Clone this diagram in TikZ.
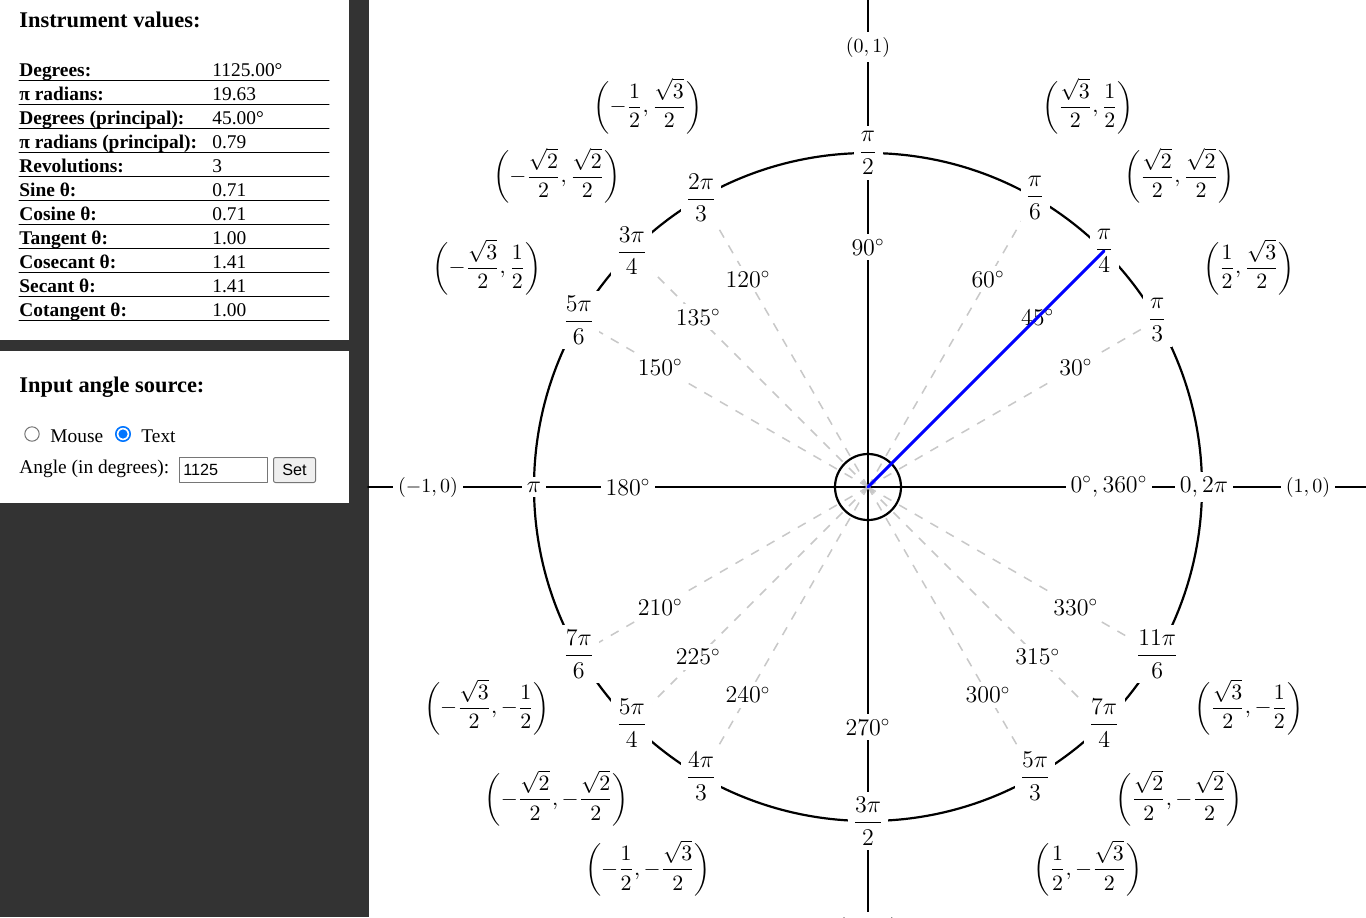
\documentclass[tikz,border=0pt]{standalone}
\usepackage[no-math]{fontspec}
\usepackage{amsmath}
\newfontfamily\pagefont{Liberation Serif}
\newfontfamily\formfont{Liberation Sans}
\definecolor{sidegray}{HTML}{333333}
\definecolor{raygray}{HTML}{C8C8C8}
\definecolor{edgegray}{HTML}{767676}
\definecolor{btngray}{HTML}{EFEFEF}
\definecolor{radioblue}{HTML}{0075FF}
\newcommand{\ptpair}[2]{$\biggl(#1,#2\biggr)$}

\begin{document}
\begin{tikzpicture}[x=0.5pt, y=-0.5pt, line join=round, line cap=round,
  lab/.style={fill=white, inner sep=2.5pt, font=\fontsize{11.6}{14}\selectfont},
  pnt/.style={fill=white, inner sep=2.5pt, font=\fontsize{9.8}{12}\selectfont},
  crd/.style={inner sep=0pt, font=\fontsize{11.4}{14}\selectfont},
  raydash/.style={draw=raygray, line width=0.75pt, line cap=butt, dash pattern=on 4.5pt off 4.5pt},
  handline/.style={draw=blue, line width=1.5pt},
  boxhead/.style={anchor=base west, inner sep=0pt, font=\pagefont\bfseries\fontsize{11.2}{13}\selectfont},
  rowkey/.style={anchor=base west, inner sep=0pt, font=\pagefont\bfseries\fontsize{9.7}{11}\selectfont},
  rowval/.style={anchor=base west, inner sep=0pt, font=\pagefont\fontsize{9.7}{11}\selectfont},
  inputbox/.style={draw=edgegray, line width=0.5pt, anchor=north west, inner sep=0pt, minimum height=12.5pt}]
\useasboundingbox (0,0) rectangle (1366,917);
\fill[white] (0,0) rectangle (1366,917);
\fill[sidegray] (0,0) rectangle (369,917);
\fill[white] (0,0) rectangle (349,340);
\fill[white] (0,351) rectangle (349,503);

% instrument values
\node[boxhead] (hvals) at (19,27) {Instrument values:};
\node[rowkey] (kdeg) at (19,76) {Degrees:};
\node[rowval] (vdeg) at (212,76) {1125.00°};
\node[rowkey] (krad) at (19,100) {π radians:};
\node[rowval] (vrad) at (212,100) {19.63};
\node[rowkey] (kpdeg) at (19,124) {Degrees (principal):};
\node[rowval] (vpdeg) at (212,124) {45.00°};
\node[rowkey] (kprad) at (19,148) {π radians (principal):};
\node[rowval] (vprad) at (212,148) {0.79};
\node[rowkey] (krev) at (19,172) {Revolutions:};
\node[rowval] (vrev) at (212,172) {3};
\node[rowkey] (ksin) at (19,196) {Sine θ:};
\node[rowval] (vsin) at (212,196) {0.71};
\node[rowkey] (kcos) at (19,220) {Cosine θ:};
\node[rowval] (vcos) at (212,220) {0.71};
\node[rowkey] (ktan) at (19,244) {Tangent θ:};
\node[rowval] (vtan) at (212,244) {1.00};
\node[rowkey] (kcsc) at (19,268) {Cosecant θ:};
\node[rowval] (vcsc) at (212,268) {1.41};
\node[rowkey] (ksec) at (19,292) {Secant θ:};
\node[rowval] (vsec) at (212,292) {1.41};
\node[rowkey] (kcot) at (19,316) {Cotangent θ:};
\node[rowval] (vcot) at (212,316) {1.00};
\draw[line width=0.5pt] (19,80)--(329,80) (19,104)--(329,104) (19,128)--(329,128)
  (19,152)--(329,152) (19,176)--(329,176) (19,200)--(329,200) (19,224)--(329,224)
  (19,248)--(329,248) (19,272)--(329,272) (19,296)--(329,296) (19,320)--(329,320);

% input angle source
\node[boxhead] (hsrc) at (19,392) {Input angle source:};
\node[circle, draw=edgegray, line width=0.5pt, fill=white, minimum size=7.2pt, inner sep=0pt] (rmouse) at (32,434) {};
\node[rowval] (tmouse) at (50,442) {Mouse};
\node[circle, draw=radioblue, line width=0.8pt, fill=white, minimum size=7.2pt, inner sep=0pt] (rtext) at (123,434) {};
\fill[radioblue] (rtext.center) circle (4.6);
\node[rowval] (ttext) at (141,442) {Text};
\node[rowval] (tangle) at (19,473) {Angle (in degrees):};
\node[inputbox, minimum width=44pt] (inbox) at (179,457) {};
\node[anchor=base west, inner sep=0pt, font=\formfont\fontsize{8.1}{9}\selectfont] (intext) at (183,475) {1125};
\node[inputbox, fill=btngray, rounded corners=1pt, minimum width=21pt, font=\formfont\fontsize{8.1}{9}\selectfont] (setbtn) at (273,457) {Set};

% unit circle
\begin{scope}[shift={(868,487)}, yscale=-1]
\def\R{334} \def\D{240} \def\C{440}
\coordinate (O) at (0,0);
\draw[line width=1pt] (-500,0)--(500,0) (0,-445)--(0,490);
\draw[line width=1.1pt] (O) circle (\R);
\draw[raydash] (O)--(30:\R) (O)--(45:\R) (O)--(60:\R) (O)--(120:\R) (O)--(135:\R) (O)--(150:\R)
  (O)--(210:\R) (O)--(225:\R) (O)--(240:\R) (O)--(300:\R) (O)--(315:\R) (O)--(330:\R);
\draw[line width=1.1pt] (O) circle (33);
% radians
\node[lab] (r0) at (0:336) {$0,2\pi$};
\node[lab] (r30) at (30:\R) {$\dfrac{\pi}{3}$};
\node[lab] (r45) at (45:\R) {$\dfrac{\pi}{4}$};
\node[lab] (r60) at (60:\R) {$\dfrac{\pi}{6}$};
\node[lab] (r90) at (90:\R) {$\dfrac{\pi}{2}$};
\node[lab] (r120) at (120:\R) {$\dfrac{2\pi}{3}$};
\node[lab] (r135) at (135:\R) {$\dfrac{3\pi}{4}$};
\node[lab] (r150) at (150:\R) {$\dfrac{5\pi}{6}$};
\node[lab] (r180) at (180:\R) {$\pi$};
\node[lab] (r210) at (210:\R) {$\dfrac{7\pi}{6}$};
\node[lab] (r225) at (225:\R) {$\dfrac{5\pi}{4}$};
\node[lab] (r240) at (240:\R) {$\dfrac{4\pi}{3}$};
\node[lab] (r270) at (270:\R) {$\dfrac{3\pi}{2}$};
\node[lab] (r300) at (300:\R) {$\dfrac{5\pi}{3}$};
\node[lab] (r315) at (315:\R) {$\dfrac{7\pi}{4}$};
\node[lab] (r330) at (330:\R) {$\dfrac{11\pi}{6}$};
% degrees
\node[lab] (d0) at (0:241) {$0^\circ,360^\circ$};
\node[lab] (d30) at (30:\D) {$30^\circ$};
\node[lab] (d45) at (45:\D) {$45^\circ$};
\node[lab] (d60) at (60:\D) {$60^\circ$};
\node[lab] (d90) at (90:\D) {$90^\circ$};
\node[lab] (d120) at (120:\D) {$120^\circ$};
\node[lab] (d135) at (135:\D) {$135^\circ$};
\node[lab] (d150) at (150:\D) {$150^\circ$};
\node[lab] (d180) at (180:\D) {$180^\circ$};
\node[lab] (d210) at (210:\D) {$210^\circ$};
\node[lab] (d225) at (225:\D) {$225^\circ$};
\node[lab] (d240) at (240:\D) {$240^\circ$};
\node[lab] (d270) at (270:\D) {$270^\circ$};
\node[lab] (d300) at (300:\D) {$300^\circ$};
\node[lab] (d315) at (315:\D) {$315^\circ$};
\node[lab] (d330) at (330:\D) {$330^\circ$};
% points
\node[pnt] (c0) at (0:\C) {$(1,0)$};
\node[pnt] (c90) at (90:\C) {$(0,1)$};
\node[pnt] (c180) at (180:\C) {$(-1,0)$};
\node[pnt] (c270) at (270:\C) {$(0,-1)$};
\node[crd] (c30) at (30:\C) {\ptpair{\dfrac{1}{2}}{\dfrac{\sqrt{3}}{2}}};
\node[crd] (c45) at (45:\C) {\ptpair{\dfrac{\sqrt{2}}{2}}{\dfrac{\sqrt{2}}{2}}};
\node[crd] (c60) at (60:\C) {\ptpair{\dfrac{\sqrt{3}}{2}}{\dfrac{1}{2}}};
\node[crd] (c120) at (120:\C) {\ptpair{-\dfrac{1}{2}}{\dfrac{\sqrt{3}}{2}}};
\node[crd] (c135) at (135:\C) {\ptpair{-\dfrac{\sqrt{2}}{2}}{\dfrac{\sqrt{2}}{2}}};
\node[crd] (c150) at (150:\C) {\ptpair{-\dfrac{\sqrt{3}}{2}}{\dfrac{1}{2}}};
\node[crd] (c210) at (210:\C) {\ptpair{-\dfrac{\sqrt{3}}{2}}{-\dfrac{1}{2}}};
\node[crd] (c225) at (225:\C) {\ptpair{-\dfrac{\sqrt{2}}{2}}{-\dfrac{\sqrt{2}}{2}}};
\node[crd] (c240) at (240:\C) {\ptpair{-\dfrac{1}{2}}{-\dfrac{\sqrt{3}}{2}}};
\node[crd] (c300) at (300:\C) {\ptpair{\dfrac{1}{2}}{-\dfrac{\sqrt{3}}{2}}};
\node[crd] (c315) at (315:\C) {\ptpair{\dfrac{\sqrt{2}}{2}}{-\dfrac{\sqrt{2}}{2}}};
\node[crd] (c330) at (330:\C) {\ptpair{\dfrac{\sqrt{3}}{2}}{-\dfrac{1}{2}}};
\draw[handline] (O)--(r45.center);
\end{scope}
\end{tikzpicture}
\end{document}
